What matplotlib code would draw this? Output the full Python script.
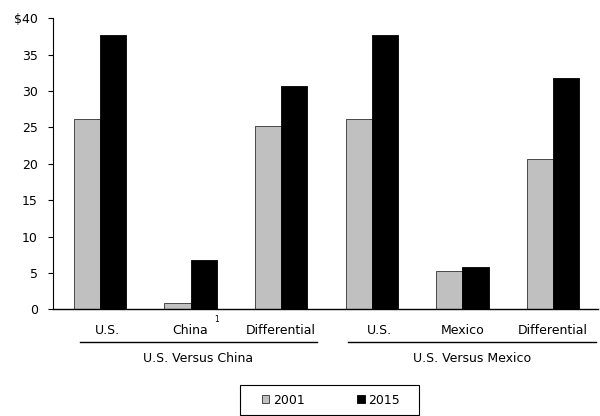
import numpy as np
import matplotlib.pyplot as plt
from matplotlib.lines import Line2D
from matplotlib.patches import Patch, Rectangle
from matplotlib.transforms import blended_transform_factory

# Biaya per jam (USD), dua perbandingan negara
kategori = ["U.S.", "China", "Differential", "U.S.", "Mexico", "Differential"]
kelompok = ["U.S. Versus China", "U.S. Versus Mexico"]
tahun = ["2001", "2015"]
nilai_2001 = [26.1, 0.8, 25.2, 26.1, 5.3, 20.6]
nilai_2015 = [37.7, 6.8, 30.7, 37.7, 5.8, 31.8]
yticks = [0, 5, 10, 15, 20, 25, 30, 35, 40]
ylabels = ["0", "5", "10", "15", "20", "25", "30", "35", "$40"]

plt.rcParams["font.family"] = "DejaVu Sans"
plt.rcParams["font.size"] = 9

fig = plt.figure(figsize=(6, 4.16), dpi=100)
ax = fig.add_axes([0.0875, 0.2565, 0.9092, 0.6995])

x = np.arange(len(kategori))
lebar = 0.29
ax.bar(x - lebar / 2, nilai_2001, lebar, color="#c0c0c0", edgecolor="#303030", linewidth=0.6)
ax.bar(x + lebar / 2, nilai_2015, lebar, color="black", edgecolor="black", linewidth=0.6)

ax.set_xlim(-0.524, 5.497)
ax.set_ylim(0, 40)
ax.set_yticks(yticks)
ax.set_yticklabels(ylabels)
ax.set_xticks([])
ax.tick_params(axis="y", direction="out", length=3.5, width=0.8, pad=7, labelsize=9)
for s in ["top", "right"]:
    ax.spines[s].set_visible(False)
ax.spines["left"].set_linewidth(0.8)
ax.spines["bottom"].set_linewidth(1.0)

# label kategori di bawah sumbu
trans = blended_transform_factory(ax.transData, fig.transFigure)
geser = [0.08, 0.0, 0.0, 0.08, 0.0, 0.0]
for i, lab in enumerate(kategori):
    fig.text(i + geser[i], 1 - 331 / 416, lab, transform=trans,
             ha="center", va="center", fontsize=9)
fig.text(1 + 0.29, 1 - 320 / 416, "1", transform=trans,
         ha="center", va="center", fontsize=5.5)

# garis dan judul kelompok
garis = [(-0.22, 2.39), (2.74, 5.48)]
for (a, b), nama in zip(garis, kelompok):
    fig.add_artist(Line2D([a, b], [1 - 341.7 / 416] * 2, transform=trans,
                          color="black", linewidth=1.0))
    fig.text((a + b) / 2, 1 - 358.3 / 416, nama, transform=trans,
             ha="center", va="center", fontsize=9)

# legenda dengan bingkai manual
fig.add_artist(Rectangle((240 / 600, 1 - 415 / 416), 179 / 600, 30 / 416,
                         transform=fig.transFigure, fill=False,
                         edgecolor="black", linewidth=0.8))
handles = [Patch(facecolor="#c0c0c0", edgecolor="#303030", linewidth=0.6),
           Patch(facecolor="black", edgecolor="black", linewidth=0.6)]
fig.legend(handles, tahun, loc="center", bbox_to_anchor=(331 / 600, 1 - 400 / 416),
           ncol=2, frameon=False, handlelength=0.6, handleheight=0.6,
           handletextpad=0.3, columnspacing=4.2, borderpad=0.5, fontsize=9)

fig.savefig("out.png", dpi=100)
